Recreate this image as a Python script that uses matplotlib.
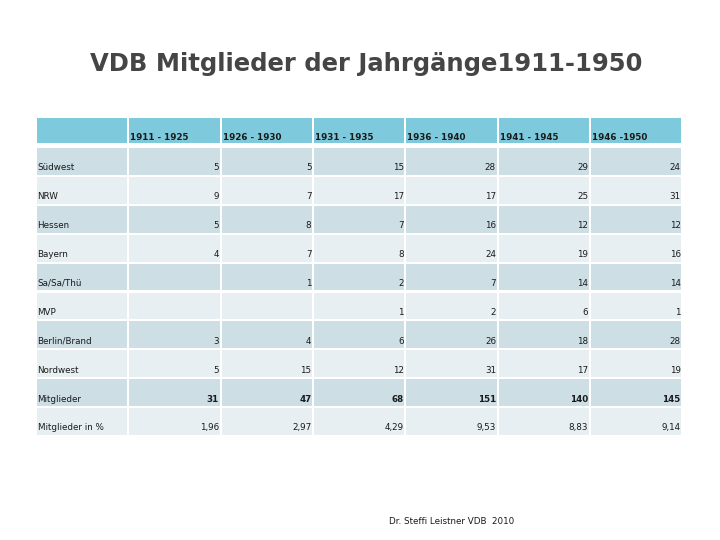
import matplotlib
matplotlib.use("Agg")
import matplotlib.pyplot as plt
from matplotlib.patches import Rectangle

title = "VDB Mitglieder der Jahrgänge1911-1950"
footer = "Dr. Steffi Leistner VDB  2010"
periods = ["1911 - 1925", "1926 - 1930", "1931 - 1935", "1936 - 1940", "1941 - 1945", "1946 -1950"]
regions = ["Südwest", "NRW", "Hessen", "Bayern", "Sa/Sa/Thü", "MVP", "Berlin/Brand", "Nordwest",
           "Mitglieder", "Mitglieder in %"]
values = [
    ["5", "5", "15", "28", "29", "24"],
    ["9", "7", "17", "17", "25", "31"],
    ["5", "8", "7", "16", "12", "12"],
    ["4", "7", "8", "24", "19", "16"],
    ["", "1", "2", "7", "14", "14"],
    ["", "", "1", "2", "6", "1"],
    ["3", "4", "6", "26", "18", "28"],
    ["5", "15", "12", "31", "17", "19"],
    ["31", "47", "68", "151", "140", "145"],
    ["1,96", "2,97", "4,29", "9,53", "8,83", "9,14"],
]
bold_rows = ["Mitglieder"]

W, H = 720, 540
fig = plt.figure(figsize=(W / 100, H / 100), dpi=100)
ax = fig.add_axes([0, 0, 1, 1])
ax.set_xlim(0, W)
ax.set_ylim(H, 0)
ax.axis("off")

HEAD = "#7ecadc"
DARK = "#cddee5"
LIGHT = "#e8eff2"
x0, colw, ncol = 37.0, 92.3, 7
gap = 2.0
head_top, head_bot = 118, 143
row_top0, pitch, row_h = 148, 28.9, 26.8
fs = 6.3

# header
for c in range(ncol):
    xl = x0 + c * colw
    ax.add_patch(Rectangle((xl, head_top), colw - gap, head_bot - head_top, color=HEAD, lw=0))
    if c > 0:
        ax.text(xl + 1, head_bot - 3.5, periods[c - 1], fontsize=fs, fontweight="bold",
                ha="left", va="baseline", color="#1a1a1a", family="DejaVu Sans")

for r, name in enumerate(regions):
    yt = row_top0 + r * pitch
    col = DARK if r % 2 == 0 else LIGHT
    for c in range(ncol):
        xl = x0 + c * colw
        ax.add_patch(Rectangle((xl, yt), colw - gap, row_h, color=col, lw=0))
    ax.text(x0 + 0.5, yt + row_h - 4.5, name, fontsize=fs, ha="left", va="baseline",
            color="#1a1a1a", family="DejaVu Sans")
    for c, v in enumerate(values[r]):
        xr = x0 + (c + 2) * colw - gap - 0.5
        ax.text(xr, yt + row_h - 4.5, v, fontsize=fs, ha="right", va="baseline",
                color="#1a1a1a", family="DejaVu Sans",
                fontweight="bold" if name in bold_rows else "normal")

ax.text(366.5, 64, title, fontsize=17.5, ha="center", va="center", color="#454545",
        family="DejaVu Sans", fontweight="bold")
ax.text(452, 522, footer, fontsize=6.3, ha="center", va="center", color="#1a1a1a",
        family="DejaVu Sans")

fig.savefig("out.png", dpi=100)
